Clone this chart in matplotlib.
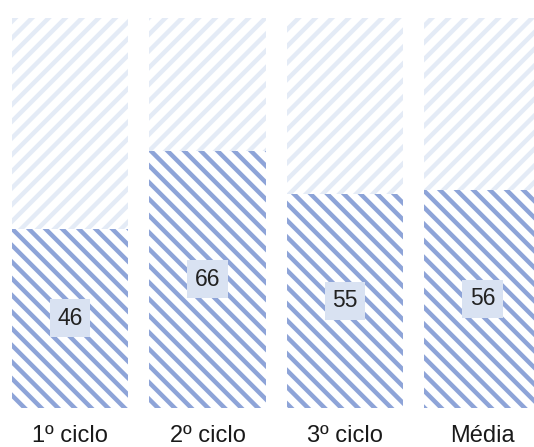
import matplotlib.pyplot as plt
import numpy as np

plt.rcParams['font.family'] = ['Liberation Sans', 'DejaVu Sans']
plt.rcParams['hatch.linewidth'] = 3.2

categories = ['1º ciclo', '2º ciclo', '3º ciclo', 'Média']
values = [46, 66, 55, 56]
total = 100

fig = plt.figure(figsize=(5.34, 4.47), dpi=100)
ax = fig.add_axes([0, 39 / 447, 1, 390 / 447])

x = np.arange(len(categories))
rest = [total - v for v in values]

ax.bar(x, values, width=0.85, color='white', edgecolor='#8ea4d8',
       hatch='\\\\', linewidth=0)
ax.bar(x, rest, bottom=values, width=0.85, color='white',
       edgecolor='#e4ebf6', hatch='//', linewidth=0)

for xi, v in zip(x, values):
    ax.text(xi, v / 2, str(v), ha='center', va='center', fontsize=16.5,
            color='#222222',
            bbox=dict(boxstyle='square,pad=0.33', facecolor='#d9e2f2',
                      edgecolor='none'))

ax.set_xlim(-0.509, 3.375)
ax.set_ylim(0, total)
ax.set_xticks(x)
ax.set_xticklabels(categories, fontsize=17, color='#1a1a1a')
ax.tick_params(axis='x', length=0, pad=12)
ax.set_yticks([])
for s in ax.spines.values():
    s.set_visible(False)

fig.savefig('out.png', dpi=100)
